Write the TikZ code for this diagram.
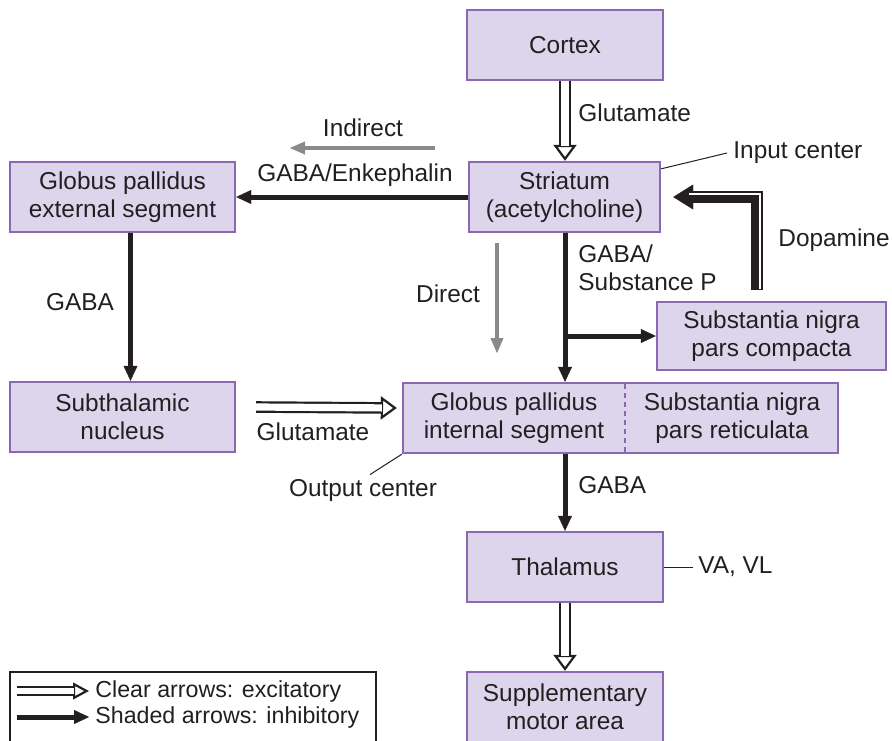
\documentclass[tikz,border=0pt]{standalone}
\usepackage{fontspec}
\setmainfont{Liberation Sans}
\usetikzlibrary{arrows.meta,calc}
\definecolor{boxfill}{RGB}{221,213,235}
\definecolor{boxline}{RGB}{140,104,178}
\definecolor{ink}{RGB}{35,31,32}
\definecolor{pathgray}{RGB}{138,138,138}
\tikzset{
  region/.style={draw=boxline, fill=boxfill, line width=1.2pt, minimum height=35pt,
    align=center, inner sep=0pt, text=ink},
  inhib/.style={ink, line width=2.5pt, -{Triangle[length=7.5pt,width=7pt,line width=0.2pt]}},
  route/.style={pathgray, line width=2pt, -{Triangle[length=7.5pt,width=6.5pt,line width=0.2pt]}},
  lbl/.style={text=ink, inner sep=0pt},
  leader/.style={ink, line width=0.5pt},
}
% hollow (excitatory) arrow: [gap]{from}{to}
\newcommand{\clearArrow}[3][3.6pt]{%
  \draw[ink, line width=1.1pt, -{Triangle[open, length=8pt, width=#1*3.2, fill=white]}] #2 -- #3;
  \draw[ink, line width=1.1pt, double=white, double distance=#1, shorten >=7.5pt] #2 -- #3;}
\begin{document}
\begin{tikzpicture}[x=0.5pt, y=-0.5pt, font=\fontsize{12.2}{14}\selectfont]
    \useasboundingbox (0,0) rectangle (892,740);

    \node[region, minimum width=98pt] (ctx) at (565,45) {Cortex};
    \node[region, minimum width=95.5pt] (str) at (564.5,197) {Striatum\\(acetylcholine)};
    \node[region, minimum width=112.5pt] (gpe) at (122.5,197) {Globus pallidus\\external segment};
    \node[region, minimum width=114.5pt, minimum height=34pt] (snc) at (771.5,336) {Substantia nigra\\pars compacta};
    \node[region, minimum width=112.5pt] (stn) at (122.5,417) {Subthalamic\\nucleus};
    \node[region, minimum width=217.5pt] (out) at (620.5,418) {};
    \node[lbl, align=center] (gpi) at (514,418) {Globus pallidus\\internal segment};
    \node[lbl, align=center] (snr) at (732,418) {Substantia nigra\\pars reticulata};
    \coordinate (div) at (625,0);
    \draw[boxline, line width=0.8pt, dash pattern=on 2.5pt off 2pt] ([yshift=-1pt]div |- out.north) -- ([yshift=1pt]div |- out.south);
    \node[region, minimum width=98pt] (thal) at (565,567) {Thalamus};
    \node[region, minimum width=98pt] (sma) at (565,707) {Supplementary\\motor area};

    \clearArrow{(ctx.south)}{(ctx.south |- str.north)}
    \draw[inhib] (str.west) -- (gpe.east);
    \draw[inhib] ([xshift=4pt]gpe.south) -- ([xshift=4pt]stn.north);
    \clearArrow{([xshift=10pt,yshift=5pt]stn.east)}{([xshift=-2.5pt,yshift=5pt]out.west)}
    \draw[inhib] (ctx.south |- str.south) -- (ctx.south |- out.north);
    \draw[inhib] (ctx.south |- snc.west) -- (snc.west);
    \draw[inhib] (ctx.south |- out.south) -- (thal.north);
    \clearArrow{(thal.south)}{(sma.north)}

    % dopamine
    \coordinate (dopa) at (757,290);
    \draw[ink, line width=6pt, -{Triangle[length=10pt,width=12.5pt,line width=0.2pt]}] (dopa) |- ([xshift=6pt]str.east);
    \draw[white, line width=1pt] ([xshift=1.5pt, yshift=0.5pt]dopa) |- ([xshift=14pt, yshift=1.5pt]str.east);

    \coordinate (ind0) at (435,148);
    \coordinate (ind1) at (290,148);
    \draw[route] (ind0) -- (ind1);
    \coordinate (dir0) at (497,243);
    \coordinate (dir1) at (497,353);
    \draw[route] (dir0) -- (dir1);

    \node[lbl, anchor=west] at (578,113) {Glutamate};
    \node[lbl] at (363,128) {Indirect};
    \node[lbl] at (355,175) {GABA/Enkephalin};
    \node[lbl] at (80,302) {GABA};
    \node[lbl, anchor=west, align=left] at (578,268) {GABA/\\Substance P};
    \node[lbl] at (448,294) {Direct};
    \node[lbl, anchor=west] at (778,240) {Dopamine};
    \node[lbl] at (313,432) {Glutamate};
    \node[lbl, anchor=west] at (578,485) {GABA};
    \node[lbl] (outc) at (363,490) {Output center};
    \node[lbl, anchor=west] (inc) at (733,153) {Input center};
    \node[lbl, anchor=west] (vavl) at (698,567) {VA, VL};
    \draw[leader] ([xshift=-3pt]inc.west) -- ([yshift=-4pt]str.north east);
    \draw[leader] ([xshift=3.5pt, yshift=2pt]outc.north) -- (out.south west);
    \draw[leader] (thal.east) -- ([xshift=-2.5pt]vavl.west);

    % legend
    \draw[ink, line width=0.6pt] (10,672) rectangle (376,748);
    \node[lbl, anchor=west, font=\fontsize{11.6}{14}\selectfont] (lgex) at (95,691) {Clear arrows: excitatory};
    \node[lbl, anchor=west, font=\fontsize{11.6}{14}\selectfont] (lgin) at (95,717) {Shaded arrows: inhibitory};
    \clearArrow[2.6pt]{(17,691)}{([xshift=-3pt]lgex.west)}
    \draw[inhib] (17,717) -- ([xshift=-3pt]lgin.west);
\end{tikzpicture}
\end{document}
